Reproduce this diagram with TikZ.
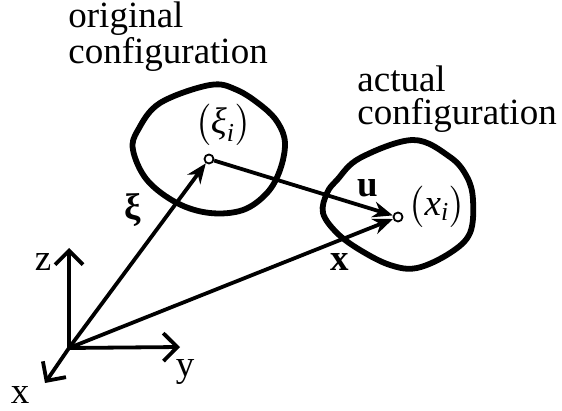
\documentclass[tikz,border=0pt]{standalone}
\usepackage{fontspec}
\setmainfont{Liberation Serif}
\usepackage{amsmath}
\usetikzlibrary{arrows.meta,positioning,calc}

\begin{document}
\begin{tikzpicture}[x=0.5pt, y=-0.5pt,
    blob/.style={line width=2.9pt, line join=round},
    vec/.style={line width=1.9pt, -{Stealth[length=10pt, width=8pt]}},
    axis/.style={line width=1.9pt, -{Straight Barb[length=7pt, width=14pt, line width=1.9pt]}},
    pt/.style={circle, draw, fill=white, line width=0.9pt, inner sep=0pt, minimum size=4.5pt},
    lbl/.style={inner sep=0pt, font=\fontsize{18.5}{16.5}\selectfont},
    cfg/.style={lbl, align=left, anchor=base west}
]
\useasboundingbox (0,0) rectangle (562,411);

% configurations
\draw[blob] plot[smooth cycle, tension=0.6] coordinates {
    (210,85) (237,90) (263,107) (278,123) (285,143) (280,170) (267,193)
    (243,210) (210,213) (177,203) (147,180) (133,150) (138,130) (160,103)};
\draw[blob] plot[smooth cycle, tension=0.6] coordinates {
    (413,140) (450,157) (467,177) (473,200) (470,233) (450,253) (417,268)
    (390,265) (360,250) (337,233) (323,213) (327,193) (337,180) (360,158)};

\node[cfg] (orig) at (68,64) {original\\configuration};
\node[cfg] (actual) at (357,125) {actual\\configuration};

% points and vectors
\coordinate (O) at (69,348);
\node[pt] (xi) at (209,159) {};
\node[pt] (xp) at (398,217) {};

\draw[vec] (O) -- (xi);
\draw[vec] (O) -- (xp);
\draw[vec] (xi) -- (xp);

\node[lbl] (xilbl) at (223,125) {$\bigl(\text{\itshape ξ}_{\text{\itshape i}}\bigr)$};
\node[lbl] (xplbl) at (437,207) {$\bigl(\text{\itshape x}_{\text{\itshape i}}\bigr)$};
\node[lbl] (xivec) at (133,210) {\textbf{ξ}};
\node[lbl] (uvec) at (368,188) {\textbf{u}};
\node[lbl] (xvec) at (340,262) {\textbf{x}};

% axes
\coordinate (ztip) at (69,248);
\coordinate (ytip) at (180,347);
\coordinate (xtip) at (45,383);
\draw[axis] (O) -- (ztip);
\draw[axis] (O) -- (ytip);
\draw[axis] (O) -- (xtip);
\node[lbl] (zlbl) at (43,262) {z};
\node[lbl] (ylbl) at (185,372) {y};
\node[lbl] (xlbl) at (20,395) {x};

\end{tikzpicture}
\end{document}
